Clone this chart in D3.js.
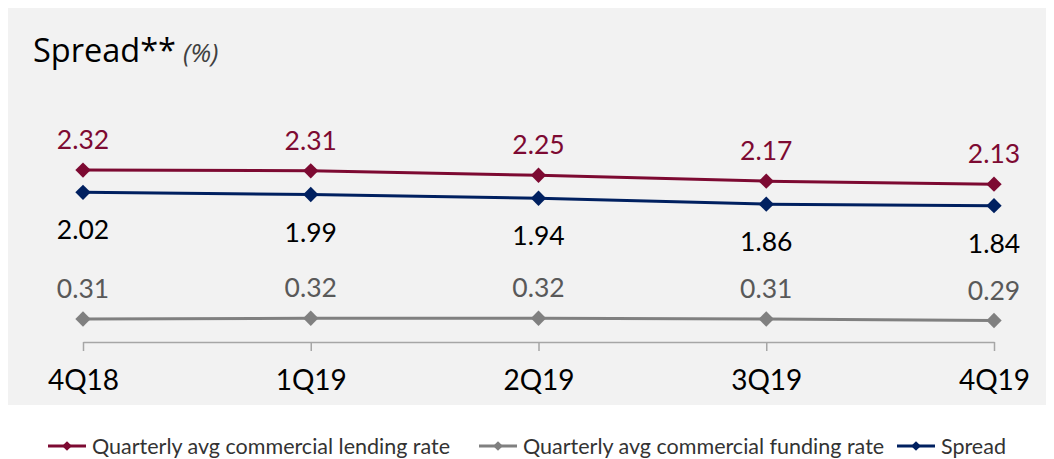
<!DOCTYPE html>
<html>
<head>
<meta charset="utf-8">
<script src="https://cdn.jsdelivr.net/npm/d3@7"></script>
<style>
  body { margin: 0; background: #fff; }
  svg text { font-family: Lato, "Open Sans", sans-serif; }
</style>
</head>
<body>
<div id="chart"></div>
<script>
var quarters = ["4Q18", "1Q19", "2Q19", "3Q19", "4Q19"];
var lendingRate = [2.32, 2.31, 2.25, 2.17, 2.13];
var fundingRate = [0.31, 0.32, 0.32, 0.31, 0.29];
var spreadRate = [2.02, 1.99, 1.94, 1.86, 1.84];

var width = 1054, height = 459;

var series = [
    { key: "Quarterly avg commercial lending rate", values: lendingRate, color: "#7d0a32", label: "#7d0a32", pos: "above" },
    { key: "Quarterly avg commercial funding rate", values: fundingRate, color: "#808080", label: "#595959", pos: "above" },
    { key: "Spread", values: spreadRate, color: "#002060", label: "#000000", pos: "below" }
];

var svg = d3.select("#chart").append("svg")
    .attr("width", width)
    .attr("height", height);

// panel background
svg.append("rect")
    .attr("x", 8).attr("y", 8)
    .attr("width", 1038).attr("height", 397)
    .attr("fill", "#f2f2f2");

var x = d3.scalePoint()
    .domain(quarters)
    .range([83, 994]);

var y = d3.scaleLinear()
    .domain([0, 4.5])
    .range([342, 8.5]);

// title
var title = svg.append("text")
    .attr("x", 33).attr("y", 62)
    .style("font-family", "'Open Sans', sans-serif")
    .style("font-size", "32.5px")
    .attr("fill", "#000");
title.append("tspan").text("Spread**");
title.append("tspan")
    .attr("dx", 7)
    .style("font-size", "26px")
    .style("font-style", "italic")
    .attr("fill", "#404040")
    .text("(%)");

// x axis
var xAxis = d3.axisBottom(x).tickSize(9).tickPadding(19).tickSizeOuter(0);
var gX = svg.append("g")
    .attr("transform", "translate(0," + y(0) + ")")
    .call(xAxis);
gX.select(".domain").attr("stroke", "#a6a6a6").attr("stroke-width", 1.5);
gX.selectAll(".tick line").attr("stroke", "#a6a6a6").attr("stroke-width", 1.5);
gX.selectAll(".tick text")
    .attr("fill", "#000")
    .style("font-size", "28px");

var line = d3.line()
    .x(function(d, i) { return x(quarters[i]); })
    .y(function(d) { return y(d); });

var diamond = d3.symbol().type(d3.symbolDiamond2).size(150);

series.forEach(function(s) {
    var g = svg.append("g");
    g.append("path")
        .attr("d", line(s.values))
        .attr("fill", "none")
        .attr("stroke", s.color)
        .attr("stroke-width", 3);
    g.selectAll(".marker")
        .data(s.values)
        .enter()
        .append("path")
        .attr("class", "marker")
        .attr("transform", function(d, i) { return "translate(" + x(quarters[i]) + "," + y(d) + ")"; })
        .attr("d", diamond)
        .attr("fill", s.color);
    g.selectAll(".lbl")
        .data(s.values)
        .enter()
        .append("text")
        .attr("class", "lbl")
        .attr("x", function(d, i) { return x(quarters[i]); })
        .attr("y", function(d) { return s.pos === "above" ? y(d) - 21 : y(d) + 47; })
        .attr("text-anchor", "middle")
        .attr("fill", s.label)
        .style("font-size", "26.5px")
        .text(function(d) { return d.toFixed(2); });
});

// legend
var legendX = [48, 479, 897];
var smallDiamond = d3.symbol().type(d3.symbolDiamond2).size(60);
series.forEach(function(s, i) {
    var g = svg.append("g")
        .attr("transform", "translate(" + legendX[i] + ",446)");
    g.append("line")
        .attr("x1", 0).attr("x2", 38)
        .attr("stroke", s.color)
        .attr("stroke-width", 3);
    g.append("path")
        .attr("transform", "translate(19,0)")
        .attr("d", smallDiamond)
        .attr("fill", s.color);
    g.append("text")
        .attr("x", 44).attr("y", 7.5)
        .attr("fill", "#333")
        .style("font-size", "21.5px")
        .text(s.key);
});
</script>
</body>
</html>
